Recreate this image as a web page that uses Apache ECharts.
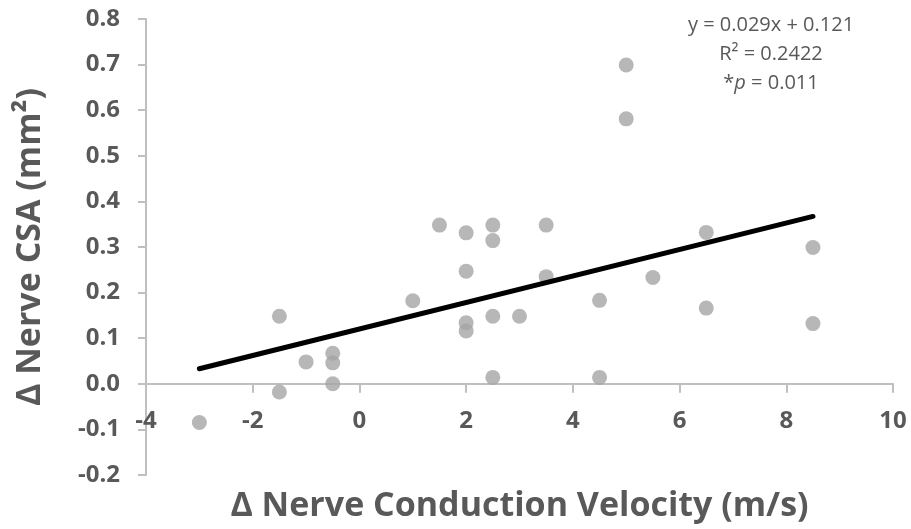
<!DOCTYPE html>
<html>
<head>
<meta charset="utf-8">
<script src="https://cdn.jsdelivr.net/npm/echarts@6/dist/echarts.min.js"></script>
<style>
  html, body { margin: 0; padding: 0; background: #fff; }
  #chart { width: 911px; height: 529px; }
</style>
</head>
<body>
<div id="chart"></div>
<script>
// Δ conduction velocity (m/s) vs Δ CSA (mm²)
let velocity = [-3, -1.5, -1.5, -1, -0.5, -0.5, -0.5, 1, 1.5, 2, 2, 2, 2, 2.5, 2.5, 2.5, 2.5, 3, 3.5, 3.5, 4.5, 4.5, 5, 5, 5.5, 6.5, 6.5, 8.5, 8.5];
let csa      = [-0.085, 0.148, -0.018, 0.048, 0.067, 0.046, 0.0, 0.182, 0.348, 0.331, 0.247, 0.134, 0.116, 0.348, 0.314, 0.148, 0.014, 0.148, 0.348, 0.235, 0.183, 0.014, 0.699, 0.581, 0.233, 0.332, 0.166, 0.299, 0.132];

// trend line end points
let trendX = [-3, 8.5];
let trendY = [0.033, 0.367];

let xTicks = [-4, -2, 0, 2, 4, 6, 8, 10];
let yTicks = [-0.2, -0.1, 0, 0.1, 0.2, 0.3, 0.4, 0.5, 0.6, 0.7, 0.8];

const gray = '#595959';
const font = '"Open Sans", "DejaVu Sans", sans-serif';

let points = velocity.map((v, i) => [v, csa[i]]);
let trend = trendX.map((v, i) => [v, trendY[i]]);

let chart = echarts.init(document.getElementById('chart'), null, { renderer: 'canvas' });

chart.setOption({
    animation: false,
    grid: { left: 146, right: 18, top: 19, bottom: 54, containLabel: false, outerBoundsMode: 'none' },
    xAxis: {
        type: 'value',
        min: xTicks[0],
        max: xTicks[xTicks.length - 1],
        interval: 2,
        name: 'Δ Nerve Conduction Velocity (m/s)',
        nameLocation: 'middle',
        nameGap: 106,
        nameTextStyle: { color: gray, fontSize: 34, fontWeight: 'bold', fontFamily: font },
        axisLine: { onZero: false, lineStyle: { color: '#bfbfbf', width: 2 } },
        axisTick: { show: true, length: 9, lineStyle: { color: '#bfbfbf', width: 2 } },
        axisLabel: { color: gray, fontSize: 24, fontWeight: 'bold', fontFamily: font, margin: 25, hideOverlap: false },
        splitLine: { show: false }
    },
    yAxis: {
        type: 'value',
        min: yTicks[0],
        max: yTicks[yTicks.length - 1],
        interval: 0.1,
        name: 'Δ Nerve CSA (mm²)',
        nameLocation: 'middle',
        nameGap: 99,
        nameTextStyle: { color: gray, fontSize: 34, fontWeight: 'bold', fontFamily: font },
        axisLine: { show: true, onZero: false, lineStyle: { color: '#bfbfbf', width: 2 } },
        axisTick: { show: true, length: 8, lineStyle: { color: '#bfbfbf', width: 2 } },
        axisLabel: {
            color: gray, fontSize: 24, fontWeight: 'bold', fontFamily: font, margin: 26,
            formatter: v => v.toFixed(1)
        },
        splitLine: { show: false }
    },
    series: [
        {
            type: 'scatter',
            data: points,
            symbolSize: 15,
            itemStyle: { color: '#a5a5a5' },
            z: 2
        },
        {
            type: 'line',
            data: trend,
            symbol: 'none',
            lineStyle: { color: '#000', width: 5, cap: 'round' },
            z: 3
        }
    ],
    graphic: [{
        type: 'text',
        x: 771,
        y: 11,
        style: {
            text: 'y = 0.029x + 0.121\nR² = 0.2422\n{it|*}{i|p}{it| = 0.011}',
            align: 'center',
            fill: gray,
            fontSize: 20,
            fontFamily: font,
            lineHeight: 29,
            rich: {
                it: { fill: gray, fontSize: 20, fontFamily: font, lineHeight: 29 },
                i: { fill: gray, fontSize: 20, fontFamily: font, fontStyle: 'italic', lineHeight: 29 }
            }
        }
    }]
});

// x axis crosses at y = 0: shift it up from the bottom edge by the scale distance
let yZero = chart.convertToPixel({ yAxisIndex: 0 }, 0);
let yBottom = chart.convertToPixel({ yAxisIndex: 0 }, yTicks[0]);
chart.setOption({ xAxis: { offset: yZero - yBottom } });
</script>
</body>
</html>
